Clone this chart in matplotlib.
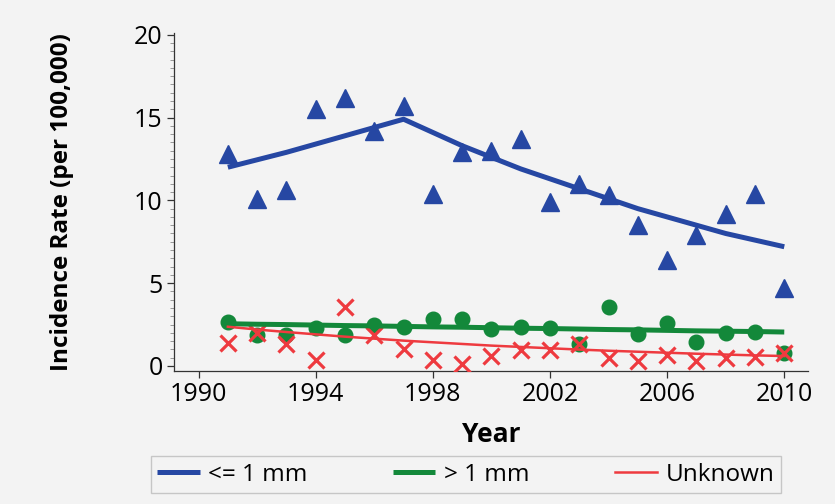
import matplotlib
matplotlib.use("Agg")
import matplotlib.pyplot as plt
from matplotlib.ticker import MultipleLocator

years = list(range(1991, 2011))

# observed rates (per 100,000)
thin_obs = [12.8, 10.1, 10.6, 15.5, 16.2, 14.2, 15.7, 10.4, 12.9, 13.0,
            13.7, 9.9, 11.0, 10.3, 8.5, 6.4, 7.9, 9.2, 10.4, 4.7]
thick_obs = [2.64, 1.9, 1.87, 2.28, 1.9, 2.48, 2.34, 2.82, 2.82, 2.22,
             2.34, 2.28, 1.31, 3.58, 1.91, 2.58, 1.43, 1.97, 2.07, 0.77]
unk_obs = [1.41, 1.97, 1.33, 0.36, 3.58, 1.87, 1.0, 0.36, 0.12, 0.6,
           0.97, 0.97, 1.31, 0.5, 0.3, 0.66, 0.3, 0.5, 0.56, 0.77]

# fitted trend lines
thin_fit = [12.0, 12.45, 12.9, 13.4, 13.9, 14.4, 14.9, 14.1, 13.3, 12.6,
            11.9, 11.3, 10.7, 10.1, 9.5, 9.0, 8.5, 8.0, 7.6, 7.2]
thick_fit = [2.55, 2.52, 2.50, 2.47, 2.44, 2.42, 2.39, 2.36, 2.34, 2.31,
             2.28, 2.26, 2.23, 2.20, 2.18, 2.15, 2.12, 2.10, 2.08, 2.05]
unk_fit = [2.37, 2.20, 2.05, 1.91, 1.77, 1.65, 1.53, 1.43, 1.33, 1.23,
           1.15, 1.07, 0.99, 0.92, 0.86, 0.80, 0.74, 0.69, 0.64, 0.60]

labels = ["<= 1 mm", "> 1 mm", "Unknown"]
x_ticks = [1990, 1994, 1998, 2002, 2006, 2010]

BLUE = "#2647a3"
GREEN = "#13883a"
RED = "#ee3a3f"
BG = "#f3f3f3"

plt.rcParams["font.family"] = ["Open Sans", "DejaVu Sans"]

fig = plt.figure(figsize=(8.35, 5.04), dpi=100, facecolor=BG)
ax = fig.add_axes([0.208, 0.264, 0.760, 0.671], facecolor=BG)

ax.plot(years, unk_obs, "x", color=RED, ms=11.5, mew=2.3, zorder=3)
ax.plot(years, thick_obs, "o", color=GREEN, ms=10.5, zorder=2)
ax.plot(years, thin_obs, "^", color=BLUE, ms=12.5, zorder=2)
l1, = ax.plot(years, thin_fit, "-", color=BLUE, lw=3.6, zorder=4, solid_capstyle="butt")
l2, = ax.plot(years, thick_fit, "-", color=GREEN, lw=3.6, zorder=4, solid_capstyle="butt")
l3, = ax.plot(years, unk_fit, "-", color=RED, lw=1.8, zorder=5)

ax.set_xlim(1989.15, 2010.82)
ax.set_ylim(-0.3, 20.12)
ax.set_xticks(x_ticks)
ax.yaxis.set_major_locator(MultipleLocator(5))
ax.yaxis.set_minor_locator(MultipleLocator(0.5))
for s in ("top", "right"):
    ax.spines[s].set_visible(False)
for s in ("left", "bottom"):
    ax.spines[s].set_color("#333333")
    ax.spines[s].set_linewidth(0.9)
ax.tick_params(axis="both", which="major", labelsize=18, length=5, width=0.9, color="#333333", pad=3)
ax.tick_params(axis="y", which="minor", length=3, width=0.6, color="#888888")

ax.set_xlabel("Year", fontsize=19, fontweight="bold", labelpad=10)
ax.set_ylabel("Incidence Rate (per 100,000)", fontsize=17.5, fontweight="bold", labelpad=43)

leg = fig.legend([l1, l2, l3], labels, loc="center", bbox_to_anchor=(0.558, 0.0585), ncol=3,
                 fontsize=17.5, frameon=True, fancybox=False, handlelength=1.75,
                 handletextpad=0.35, columnspacing=3.5, borderpad=0.25, borderaxespad=0)
leg.get_frame().set_edgecolor("#bbbbbb")
leg.get_frame().set_facecolor(BG)
leg.get_frame().set_linewidth(1.0)

fig.savefig("out.png", dpi=100, facecolor=BG)
